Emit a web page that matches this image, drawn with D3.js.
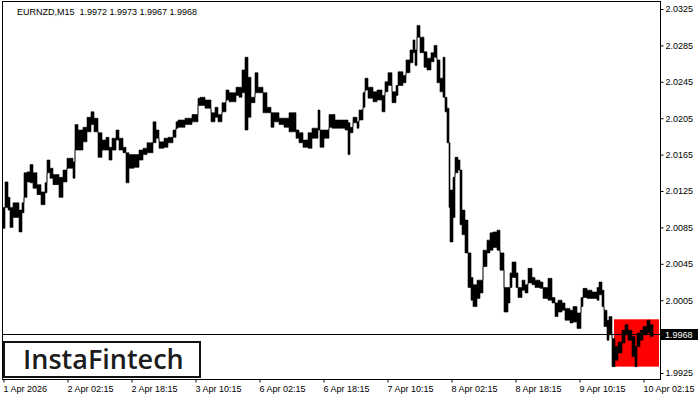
<!DOCTYPE html>
<meta charset="utf-8">
<style>
body { margin: 0; background: #fff; }
svg text { font-family: "Liberation Sans", Arial, sans-serif; font-size: 9px; fill: #000; }
</style>
<body>
<script src="https://cdn.jsdelivr.net/npm/d3@7"></script>
<script>

// EURNZD M15 in small runs of bars
// each run starts at a bar index (0 = first bar) and has its high and low
var segStart = [0,2,5,7,10,16,19,21,24,27, 30,34,38,42,44,47,50,56,60,64,
  70,72,75,80,84,88,91,95,99,103, 106,109,113,116,120,123,126,131,136,140,
  144,150,153,156,161,165,170,173,175,182, 189,195,197,202,208,212,215,219,223,226,
  233,236,239,242,245,248,252,255,260,264, 268,271,276,281,286,293,296,300,305,309,
  315,317,321,326,329,332,342,345,347,350, 354,356,360,362,365,370,374,379,382,385,
  389,393,395,400,403,407,410,412,414,417, 421,424,428,431,434,437,440,442,444,446,
  447,450,452,455,457,459,462,465,468,470, 474,477,480,484,487,490,494,497,501,505,
  507,509,513,515,519,522,525,529,532,537, 540,545,549,552,555,559,562,567,570,574,
  578,580,584,589,594,596,599,601,604,606, 609,612,615,619,622,625,629,632,634,637,
  640,644,647];
var segHigh = [2.0107,2.0135,2.0118,2.0107,2.0112,2.0104,2.0112,2.0145,2.0146,2.0154,
  2.0145,2.0132,2.0124,2.0134,2.0159,2.0150,2.0143,2.0140,2.0148,2.0161,
  2.0157,2.0198,2.0192,2.0195,2.0206,2.0212,2.0205,2.0189,2.0181,2.0184,
  2.0173,2.0183,2.0192,2.0183,2.0173,2.0167,2.0165,2.0165,2.0170,2.0172,
  2.0178,2.0201,2.0192,2.0179,2.0183,2.0184,2.0192,2.0201,2.0203,2.0205,
  2.0209,2.0227,2.0228,2.0225,2.0211,2.0217,2.0209,2.0222,2.0236,2.0233,
  2.0239,2.0239,2.0258,2.0272,2.0250,2.0228,2.0255,2.0239,2.0233,2.0217,
  2.0211,2.0211,2.0205,2.0205,2.0211,2.0192,2.0189,2.0181,2.0189,2.0194,
  2.0214,2.0192,2.0192,2.0209,2.0209,2.0203,2.0203,2.0200,2.0195,2.0206,
  2.0201,2.0214,2.0233,2.0249,2.0239,2.0234,2.0236,2.0230,2.0245,2.0255,
  2.0234,2.0241,2.0256,2.0252,2.0269,2.0280,2.0291,2.0280,2.0307,2.0294,
  2.0278,2.0271,2.0277,2.0285,2.0269,2.0249,2.0272,2.0228,2.0216,2.0178,
  2.0126,2.0140,2.0162,2.0159,2.0148,2.0104,2.0093,2.0057,2.0030,2.0022,
  2.0027,2.0027,2.0060,2.0071,2.0079,2.0080,2.0082,2.0057,2.0019,2.0019,
  2.0035,2.0047,2.0035,2.0019,2.0027,2.0022,2.0040,2.0030,2.0027,2.0025,
  2.0019,2.0029,2.0008,2.0002,2.0005,2.0002,1.9996,1.9994,1.9998,1.9991,
  2.0008,2.0018,2.0016,2.0014,2.0019,2.0025,2.0016,1.9994,1.9983,1.9987,
  1.9963,1.9954,1.9959,1.9972,1.9978,1.9972,1.9965,1.9954,1.9969,1.9972,
  1.9976,1.9983,1.9978];
var segLow = [2.0084,2.0107,2.0104,2.0085,2.0096,2.0080,2.0101,2.0118,2.0135,2.0134,
  2.0128,2.0121,2.0110,2.0123,2.0145,2.0139,2.0132,2.0118,2.0135,2.0150,
  2.0139,2.0170,2.0170,2.0179,2.0190,2.0198,2.0190,2.0162,2.0170,2.0170,
  2.0159,2.0170,2.0181,2.0170,2.0167,2.0134,2.0150,2.0151,2.0159,2.0165,
  2.0167,2.0178,2.0183,2.0172,2.0173,2.0178,2.0184,2.0194,2.0195,2.0198,
  2.0201,2.0219,2.0219,2.0216,2.0201,2.0206,2.0201,2.0212,2.0225,2.0223,
  2.0230,2.0228,2.0233,2.0192,2.0206,2.0222,2.0233,2.0233,2.0211,2.0211,
  2.0195,2.0201,2.0198,2.0195,2.0190,2.0183,2.0178,2.0173,2.0172,2.0183,
  2.0192,2.0173,2.0183,2.0195,2.0194,2.0194,2.0192,2.0165,2.0189,2.0200,
  2.0194,2.0203,2.0217,2.0236,2.0227,2.0223,2.0225,2.0212,2.0234,2.0241,
  2.0222,2.0230,2.0241,2.0244,2.0255,2.0266,2.0277,2.0263,2.0294,2.0277,
  2.0261,2.0258,2.0267,2.0272,2.0244,2.0234,2.0228,2.0212,2.0178,2.0107,
  2.0069,2.0096,2.0145,2.0148,2.0088,2.0077,2.0057,2.0019,2.0005,1.9998,
  2.0007,2.0013,2.0042,2.0057,2.0060,2.0063,2.0060,2.0038,1.9992,2.0002,
  2.0019,2.0030,2.0019,2.0008,2.0016,2.0013,2.0024,2.0022,2.0019,2.0018,
  2.0007,2.0005,2.0002,1.9987,1.9992,1.9994,1.9983,1.9980,1.9981,1.9974,
  1.9998,2.0008,2.0007,2.0007,2.0005,2.0011,1.9998,1.9976,1.9961,1.9967,
  1.9932,1.9939,1.9947,1.9958,1.9967,1.9961,1.9943,1.9932,1.9954,1.9961,
  1.9967,1.9969,1.9965];
var lastBar = 650;

var symbol = "EURNZD,M15";
var lastOHLC = ["1.9972", "1.9973", "1.9967", "1.9968"];
var lastClose = 1.9968;

// x tick labels, one every 64 bars (16 hours)
var xTickBars = [0, 64, 128, 192, 256, 320, 384, 448, 512, 576, 640];
var xTickLabels = ["1 Apr 2026", "2 Apr 02:15", "2 Apr 18:15", "3 Apr 10:15", "6 Apr 02:15",
  "6 Apr 18:15", "7 Apr 10:15", "8 Apr 02:15", "8 Apr 18:15", "9 Apr 10:15", "10 Apr 02:15"];
var yTicks = [1.9925, 1.9965, 2.0005, 2.0045, 2.0085, 2.0125, 2.0165, 2.0205, 2.0245, 2.0285, 2.0325];

// pattern box (red)
var boxBars = [611, 656];
var boxPrices = [1.9984, 1.9932];

var W = 700, H = 400;
var svg = d3.select("body").append("svg")
    .attr("width", W)
    .attr("height", H);

var x = d3.scaleLinear().domain([-1, 657]).range([2, 660]);
var y = d3.scaleLinear().domain([1.9925, 2.0325]).range([373, 9]);

// red box behind the bars
svg.append("rect")
    .attr("x", x(boxBars[0]))
    .attr("y", y(boxPrices[0]))
    .attr("width", x(boxBars[1]) - x(boxBars[0]))
    .attr("height", y(boxPrices[1]) - y(boxPrices[0]))
    .attr("fill", "#ff0000");

// last price line
var yc = Math.round(y(lastClose)) + 0.5;
svg.append("line")
    .attr("x1", x(-1)).attr("x2", x(657))
    .attr("y1", yc).attr("y2", yc)
    .attr("stroke", "#000");

// bars
var data = segStart.map(function(b, i) { return {b: b, hi: segHigh[i], lo: segLow[i]}; });
data.push({b: lastBar, hi: segHigh[segHigh.length - 1], lo: segLow[segLow.length - 1]});

var area = d3.area()
    .x(function(d) { return x(d.b); })
    .y0(function(d) { return y(d.lo); })
    .y1(function(d) { return y(d.hi); })
    .curve(d3.curveStepAfter);

svg.append("path")
    .datum(data)
    .attr("d", area)
    .attr("fill", "#000")
    .attr("stroke", "#000")
    .attr("stroke-width", 0.6);

// frame
svg.append("rect")
    .attr("x", 2.5).attr("y", 1.5)
    .attr("width", 658).attr("height", 378)
    .attr("fill", "none")
    .attr("stroke", "#000");

// x axis
var xAxis = svg.append("g")
    .attr("transform", "translate(0,379.5)")
    .call(d3.axisBottom(x)
      .tickValues(xTickBars)
      .tickFormat(function(d, i) { return xTickLabels[i]; })
      .tickSize(3));
xAxis.select(".domain").remove();
xAxis.selectAll(".tick line").attr("transform", "translate(0.5,0)");
xAxis.selectAll("text")
    .attr("text-anchor", "start")
    .attr("x", 0)
    .attr("y", 12.5)
    .attr("dy", null)
    .attr("font-size", null)
    .attr("font-family", null);

// y axis (skip the label hidden under the last price box)
var yAxis = svg.append("g")
    .attr("transform", "translate(660.5,0)")
    .call(d3.axisRight(y)
      .tickValues(yTicks)
      .tickFormat(d3.format(".4f"))
      .tickSize(3)
      .tickPadding(2));
yAxis.select(".domain").remove();
yAxis.selectAll(".tick")
    .filter(function(d) { return Math.abs(y(d) - y(lastClose)) < 10; })
    .select("text").remove();
yAxis.selectAll("text")
    .attr("font-size", null)
    .attr("font-family", null);

// last price box
svg.append("rect")
    .attr("x", 661).attr("y", yc - 5.5)
    .attr("width", 37).attr("height", 11)
    .attr("fill", "#000");
svg.append("text")
    .attr("x", 665).attr("y", yc + 3.5)
    .style("fill", "#fff")
    .text(d3.format(".4f")(lastClose));

// header
svg.append("text")
    .attr("x", 17).attr("y", 15)
    .attr("xml:space", "preserve")
    .text(symbol + "  " + lastOHLC.join(" "));

// logo
svg.append("rect")
    .attr("x", 4).attr("y", 342)
    .attr("width", 196).attr("height", 35)
    .attr("fill", "#fff")
    .attr("stroke", "#111")
    .attr("stroke-width", 2);
svg.append("text")
    .attr("x", 23).attr("y", 369)
    .style("font-family", "'Open Sans', sans-serif")
    .style("font-size", "27px")
    .style("font-weight", 600)
    .style("fill", "#1c1c1c")
    .text("InstaFintech");

</script>
</body>
